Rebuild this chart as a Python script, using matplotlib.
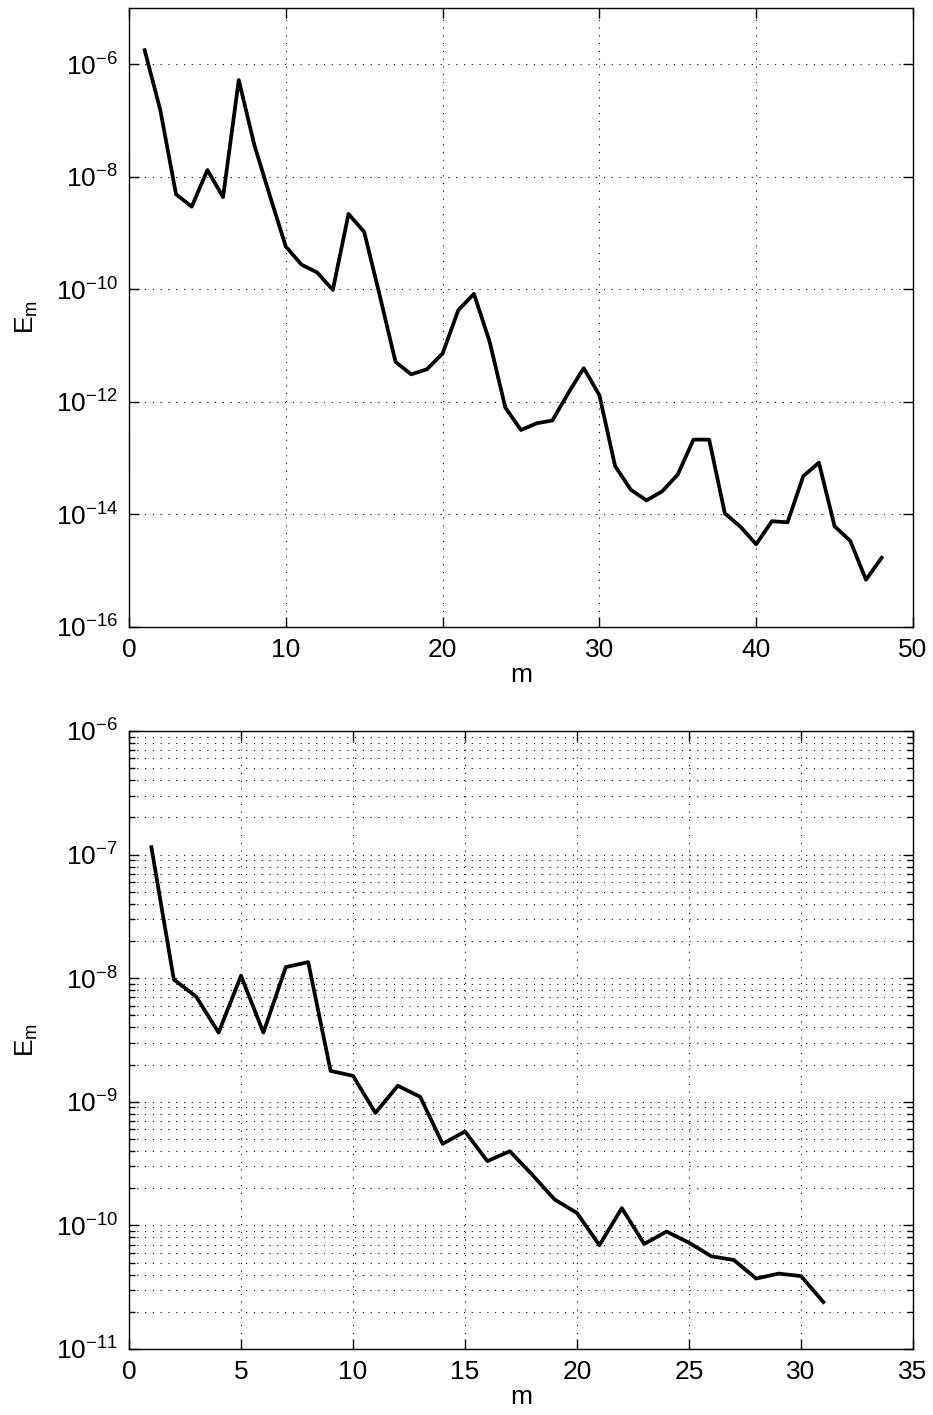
"""
plot.py -- E_m versus m, two log panels
"""
import numpy as np
import matplotlib
matplotlib.use('Agg')
import matplotlib.pyplot as plt
from matplotlib.ticker import LogLocator, LogFormatterMathtext, NullFormatter, NullLocator

plt.rcParams['font.family'] = ['Liberation Sans', 'DejaVu Sans']
plt.rcParams['mathtext.fontset'] = 'custom'
plt.rcParams['mathtext.rm'] = 'Liberation Sans'
plt.rcParams['mathtext.it'] = 'Liberation Sans'
plt.rcParams['mathtext.default'] = 'regular'
# ------------------------Data (log10 of E_m)------------
m_top = np.arange(1, 49)
logE_top = [-5.75, -6.82, -8.31, -8.53, -7.88, -8.36, -6.28, -7.44, -8.35, -9.24,
            -9.56, -9.70, -10.01, -8.66, -8.98, -10.12, -11.29, -11.51, -11.42, -11.14,
            -10.37, -10.08, -10.93, -12.10, -12.50, -12.38, -12.33, -11.85, -11.40, -11.88,
            -13.14, -13.56, -13.75, -13.59, -13.29, -12.67, -12.67, -13.98, -14.22, -14.53,
            -14.12, -14.14, -13.32, -13.08, -14.21, -14.47, -15.16, -14.77]
m_bot = np.arange(1, 32)
logE_bot = [-6.94, -8.01, -8.15, -8.44, -7.98, -8.44, -7.91, -7.87, -8.75, -8.79,
            -9.09, -8.87, -8.96, -9.34, -9.24, -9.48, -9.40, -9.59, -9.79, -9.90,
            -10.16, -9.86, -10.15, -10.05, -10.14, -10.25, -10.28, -10.43, -10.39, -10.41,
            -10.62]
E_top = 10.0**np.array(logE_top)
E_bot = 10.0**np.array(logE_bot)
# ------------------------------------------------------------------------------
W, H = 933, 1415
fig = plt.figure(figsize=(W/100, H/100), dpi=100)
ax1 = fig.add_axes([129/W, 1-627/H, 784/W, 619/H])
ax2 = fig.add_axes([129/W, 1-1349/H, 784/W, 618/H])

fs = 19
grid_kw = dict(color='k', linestyle=(0, (1, 6)), linewidth=0.8)

def style(ax):
    ax.tick_params(which='both', direction='in', top=True, right=True,
                   labelsize=fs, width=1.0, pad=8)
    ax.tick_params(which='major', length=7)
    ax.tick_params(which='minor', length=4)
    for s in ax.spines.values():
        s.set_linewidth(1.0)
    ax.set_xlabel('m', fontsize=fs, labelpad=1)
    ax.set_ylabel('E$_m$', fontsize=fs, labelpad=11)

# top panel
ax1.plot(m_top, E_top, color='k', linewidth=2.7)
ax1.set_yscale('log')
ax1.set_xlim(0, 50)
ax1.set_ylim(1e-16, 1e-5)
ax1.set_xticks([0, 10, 20, 30, 40, 50])
ax1.yaxis.set_major_locator(LogLocator(base=100.0, numticks=20))
ax1.yaxis.set_major_formatter(LogFormatterMathtext())
ax1.yaxis.set_minor_locator(NullLocator())
ax1.grid(True, which='major', **grid_kw)
style(ax1)

# bottom panel
ax2.plot(m_bot, E_bot, color='k', linewidth=2.7)
ax2.set_yscale('log')
ax2.set_xlim(0, 35)
ax2.set_ylim(1e-11, 1e-6)
ax2.set_xticks([0, 5, 10, 15, 20, 25, 30, 35])
ax2.yaxis.set_major_locator(LogLocator(base=10.0, numticks=20))
ax2.yaxis.set_major_formatter(LogFormatterMathtext())
ax2.yaxis.set_minor_locator(LogLocator(base=10.0, subs=np.arange(2, 10), numticks=20))
ax2.yaxis.set_minor_formatter(NullFormatter())
ax2.grid(True, which='both', axis='y', **grid_kw)
ax2.grid(True, which='major', axis='x', **grid_kw)
style(ax2)

plt.savefig('out.png', dpi=100)
